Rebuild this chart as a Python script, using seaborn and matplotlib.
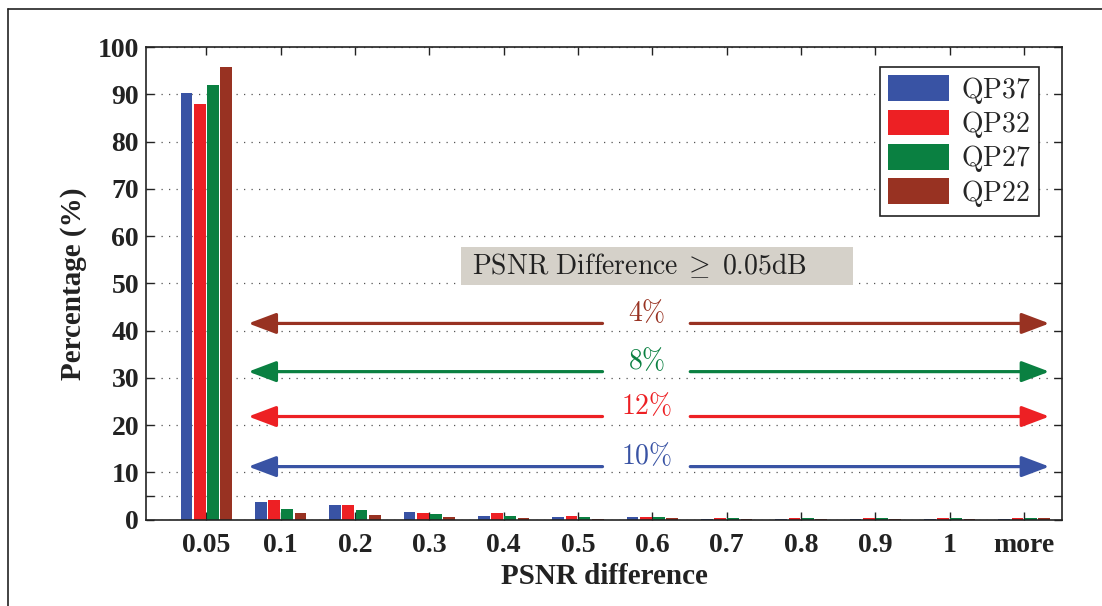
import pandas as pd
import matplotlib.pyplot as plt
import seaborn as sns
from matplotlib.lines import Line2D
from matplotlib.patches import Rectangle

# values
categories = ['0.05', '0.1', '0.2', '0.3', '0.4', '0.5', '0.6', '0.7', '0.8', '0.9', '1', 'more']
qp37 = [90.2, 3.7, 3.0, 1.5, 0.7, 0.6, 0.5, 0.2, 0.15, 0.1, 0.1, 0.1]
qp32 = [88.0, 4.1, 3.1, 1.4, 1.35, 0.7, 0.6, 0.4, 0.3, 0.3, 0.3, 0.3]
qp27 = [92.0, 2.2, 2.1, 1.1, 0.7, 0.5, 0.5, 0.35, 0.3, 0.3, 0.3, 0.3]
qp22 = [95.7, 1.4, 1.05, 0.55, 0.4, 0.2, 0.25, 0.2, 0.2, 0.2, 0.2, 0.3]
series_names = ['QP37', 'QP32', 'QP27', 'QP22']
colors = ['#3953A4', '#ED2024', '#0A8041', '#983222']

# share of blocks above 0.05dB per QP, drawn as arrows
arrow_labels = ['4%', '8%', '12%', '10%']
arrow_levels = [41.5, 31.3, 21.8, 11.2]
arrow_colors = ['#983222', '#0A8041', '#ED2024', '#3953A4']

rows = []
for name, vals in zip(series_names, [qp37, qp32, qp27, qp22]):
    for c, v in zip(categories, vals):
        rows.append({'diff': c, 'pct': v, 'qp': name})
df = pd.DataFrame(rows)

sns.set_theme(style='white')
plt.rcParams['font.family'] = ['Liberation Serif', 'DejaVu Serif']
plt.rcParams['mathtext.fontset'] = 'cm'

fig = plt.figure(figsize=(11.02, 6.06), dpi=100)
ax = fig.add_axes([0.1325, 0.1427, 0.8312, 0.7797])

sns.barplot(data=df, x='diff', y='pct', hue='qp', order=categories,
            hue_order=series_names, palette=colors, width=0.71, gap=0.11,
            linewidth=0, saturation=1, ax=ax)

ax.set_xlim(-0.81, 11.51)
ax.set_ylim(0, 100)
yt = [0, 5] + list(range(10, 101, 10))
ax.set_yticks(yt)
ax.set_yticklabels(['' if t == 5 else str(t) for t in yt])
ax.yaxis.grid(True, linestyle=(0, (1, 5)), color='#555555', linewidth=0.9)
ax.xaxis.grid(False)
ax.tick_params(direction='in', length=6, width=1, top=True, right=True,
               bottom=True, left=True, colors='#222222', labelsize=20)
ax.tick_params(axis='x', pad=10)
ax.tick_params(axis='y', pad=5)
for lab in ax.get_xticklabels() + ax.get_yticklabels():
    lab.set_fontweight('bold')
    lab.set_color('#222222')
for sp in ax.spines.values():
    sp.set_color('#222222')
    sp.set_linewidth(1.2)

ax.set_xlabel('PSNR difference', fontsize=21, fontweight='bold', color='#222222', labelpad=3)
ax.set_ylabel('Percentage (%)', fontsize=21, fontweight='bold', color='#222222', labelpad=8)

# legend with computer modern labels
handles, labels = ax.get_legend_handles_labels()
leg = ax.legend(handles, [rf'$\mathrm{{{l}}}$' for l in labels], loc='upper right',
                bbox_to_anchor=(0.975, 0.958), borderaxespad=0, fontsize=20,
                handlelength=2.2, handleheight=1.05, labelspacing=0.12,
                handletextpad=0.45, borderpad=0.28, fancybox=False,
                framealpha=1, edgecolor='#222222')
leg.get_frame().set_linewidth(1.2)

# grey annotation box
ax.add_patch(Rectangle((0.344, 0.4963), 0.428, 0.0804, transform=ax.transAxes,
                       facecolor='#D5D1C9', edgecolor='none', zorder=4))
ax.text(0.356, 0.5365, r'$\mathrm{PSNR\ Difference}\;\geq\;0.05\mathrm{dB}$',
        transform=ax.transAxes, ha='left', va='center', fontsize=20,
        color='#222222', zorder=5)

# double arrows with the percentage in the middle
x_left, x_right = 0.566, 11.34
x_mid, half_gap = 5.92, 0.59
for lab, lev, col in zip(arrow_labels, arrow_levels, arrow_colors):
    props = dict(arrowstyle='-|>,head_length=0.85,head_width=0.32', color=col,
                 lw=2.3, mutation_scale=20, shrinkA=0, shrinkB=0)
    ax.annotate('', xy=(x_left, lev), xytext=(x_mid - half_gap, lev), arrowprops=props, zorder=5)
    ax.annotate('', xy=(x_right, lev), xytext=(x_mid + half_gap, lev), arrowprops=props, zorder=5)
    ax.text(x_mid, lev + 2.2, '$' + lab.replace('%', r'\%') + '$', ha='center',
            va='center', fontsize=20, color=col, zorder=5)

# outer frame of the figure (left and top edge)
fx, fy = 8 / 1102, 1 - 9 / 606
fig.add_artist(Line2D([fx, fx], [0, fy], transform=fig.transFigure, color='#222222', lw=1.2))
fig.add_artist(Line2D([fx, 1], [fy, fy], transform=fig.transFigure, color='#222222', lw=1.2))

fig.savefig('out.png', dpi=100)
